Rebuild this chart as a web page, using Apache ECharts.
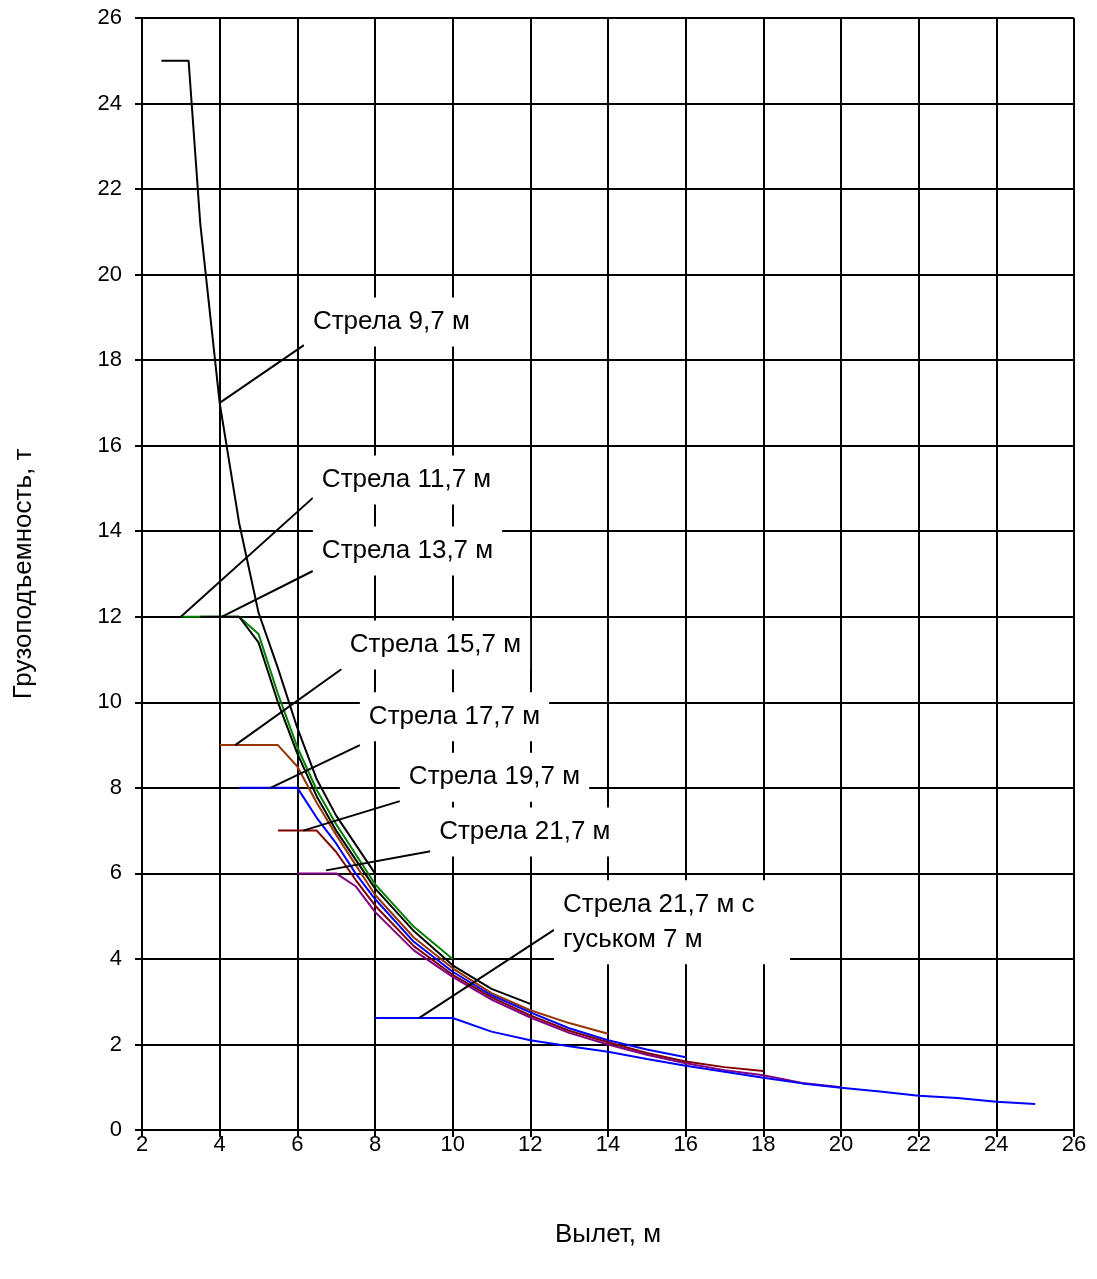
<!DOCTYPE html>
<html><head><meta charset="utf-8">
<script src="https://cdn.jsdelivr.net/npm/echarts@6/dist/echarts.min.js"></script>
<style>html,body{margin:0;padding:0;background:#fff}#c{width:1097px;height:1279px}</style>
</head><body><div id="c"></div>
<script>
// ---- data ----
const seriesNames = ['Стрела 9,7 м','Стрела 11,7 м','Стрела 13,7 м','Стрела 15,7 м','Стрела 17,7 м','Стрела 19,7 м','Стрела 21,7 м','Стрела 21,7 м с гуськом 7 м'];
const boom97  = [[2.5,25],[3.2,25],[3.5,21.2],[4,17],[4.5,14.2],[5,12.1],[5.5,10.8],[6,9.4],[6.5,8.2],[7,7.35],[8,6.0]];
const boom117 = [[3,12],[4.5,12],[5,11.6],[5.5,10.2],[6,8.95],[6.5,7.95],[7,7.15],[8,5.75],[9,4.75],[10,4.0]];
const boom137 = [[3.5,12],[4.5,12],[5,11.4],[5.5,10.0],[6,8.8],[6.5,7.8],[7,7.0],[8,5.65],[9,4.65],[10,3.85],[11,3.3],[12,2.95]];
const boom157 = [[4,9],[5.5,9],[6,8.5],[6.5,7.65],[7,6.9],[8,5.5],[9,4.5],[10,3.78],[11,3.2],[12,2.8],[13,2.5],[14,2.25]];
const boom177 = [[4.5,8],[6,8],[6.5,7.3],[7,6.7],[7.5,6.0],[8,5.4],[9,4.4],[10,3.7],[11,3.15],[12,2.75],[13,2.38],[14,2.1],[15,1.88],[16,1.7]];
const boom197 = [[5.5,7],[6.5,7],[7,6.5],[7.5,5.85],[8,5.25],[9,4.3],[10,3.63],[11,3.1],[12,2.68],[13,2.32],[14,2.05],[15,1.8],[16,1.6],[17,1.47],[18,1.38]];
const boom217 = [[6,6],[7,6],[7.5,5.7],[8,5.1],[9,4.2],[10,3.58],[11,3.05],[12,2.63],[13,2.27],[14,2.0],[15,1.76],[16,1.56],[17,1.4],[18,1.28],[19,1.1],[20,1.0]];
const gooseBoom = [[8,2.62],[10,2.62],[11,2.3],[12,2.1],[13,1.96],[14,1.83],[15,1.66],[16,1.5],[17,1.36],[18,1.22],[19,1.09],[20,0.99],[21,0.9],[22,0.8],[23,0.75],[24,0.66],[25,0.61]];
const xAxisTitle = 'Вылет, м';
const yAxisTitle = 'Грузоподъемность, т';
// callout texts, label anchor (data coords), leader line start/end (data coords)
const calloutTexts = ['Стрела 9,7 м','Стрела 11,7 м','Стрела 13,7 м','Стрела 15,7 м','Стрела 17,7 м','Стрела 19,7 м','Стрела 21,7 м','Стрела 21,7 м с\nгуськом 7 м'];
const calloutAnchors = [[6.17,18.89],[6.40,15.20],[6.40,13.54],[7.12,11.34],[7.61,9.66],[8.64,8.25],[9.42,6.97],[12.61,4.86]];
const leaderFrom = [[4.0,17.0],[3.0,12],[4.05,12],[4.4,9.0],[5.31,8.0],[6.15,7.0],[6.74,6.07],[9.14,2.62]];
const leaderTo   = [[6.17,18.35],[6.40,14.78],[6.40,13.07],[7.16,10.79],[7.61,9.0],[8.64,7.69],[9.43,6.52],[12.61,4.68]];

const colors = ['#000000','#008000','#000000','#993300','#0000ff','#800000','#800080','#0000ff'];
const curves = [boom97,boom117,boom137,boom157,boom177,boom197,boom217,gooseBoom];
const FONT = '"Liberation Sans", Arial, sans-serif';

const series = [];
curves.forEach((d,i)=>{
  series.push({type:'line', name:seriesNames[i], data:d, showSymbol:false, symbol:'none', silent:true,
    lineStyle:{color:colors[i], width:2}, z:3});
});
leaderFrom.forEach((p,i)=>{
  series.push({type:'line', data:[p, leaderTo[i]], symbol:'none', silent:true,
    lineStyle:{color:'#000', width:2}, z:4});
});
series.push({type:'scatter', symbolSize:0, silent:true, z:5,
  itemStyle:{opacity:1},
  data: calloutAnchors.map((p,i)=>{
    const item = {value:p, name:calloutTexts[i]};
    if (calloutTexts[i].indexOf('\n') >= 0) item.label = {width:218};
    return item;
  }),
  label:{show:true, position:[0,0], align:'left', verticalAlign:'middle',
    formatter:p=>p.name, color:'#000', fontSize:26, fontFamily:FONT,
    lineHeight:35, backgroundColor:'#ffffff', opacity:1, padding:[7,9,7,9]}
});

const chart = echarts.init(document.getElementById('c'), null, {renderer:'canvas'});
chart.setOption({
  backgroundColor:'#fff',
  animation:false,
  grid:{left:142, top:18, right:23, bottom:149, containLabel:false},
  xAxis:{type:'value', min:2, max:26, interval:2,
    name:xAxisTitle, nameLocation:'middle', nameGap:92,
    nameTextStyle:{fontSize:26, fontFamily:FONT, color:'#000'},
    axisLine:{show:true, onZero:false, lineStyle:{color:'#000', width:2}},
    axisTick:{show:true, length:7, lineStyle:{color:'#000', width:2}},
    axisLabel:{fontSize:22, fontFamily:FONT, color:'#000', margin:4},
    splitLine:{show:true, lineStyle:{color:'#000', width:2}}},
  yAxis:{type:'value', min:0, max:26, interval:2,
    name:yAxisTitle, nameLocation:'middle', nameGap:105, nameRotate:90,
    nameTextStyle:{fontSize:26, fontFamily:FONT, color:'#000'},
    axisLine:{show:true, onZero:false, lineStyle:{color:'#000', width:2}},
    axisTick:{show:true, length:7, lineStyle:{color:'#000', width:2}},
    axisLabel:{fontSize:22, fontFamily:FONT, color:'#000', margin:20},
    splitLine:{show:true, lineStyle:{color:'#000', width:2}}},
  series: series
});
</script></body></html>
